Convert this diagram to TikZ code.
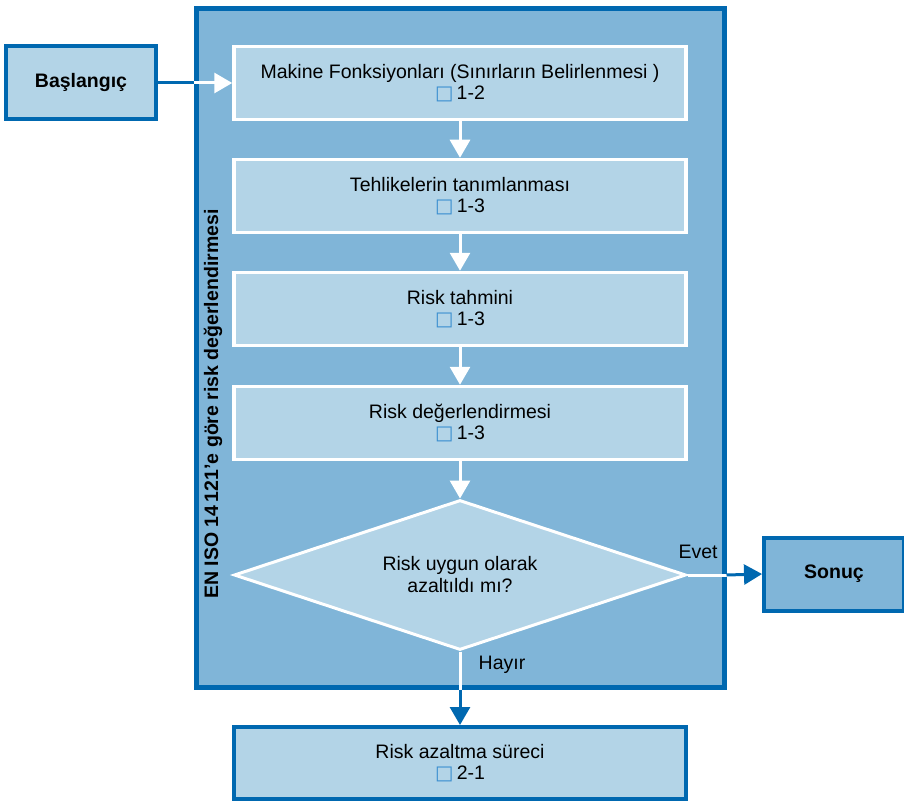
\documentclass[tikz,border=0pt]{standalone}
\usepackage{fontspec}
\setmainfont{Liberation Sans}
\newfontfamily\symfont{DejaVu Sans}
\usetikzlibrary{arrows.meta}
\usetikzlibrary{shapes.geometric}
\usetikzlibrary{positioning}
\definecolor{darkblue}{HTML}{0068B0}
\definecolor{midblue}{HTML}{80B5D8}
\definecolor{lightblue}{HTML}{B3D4E7}
\definecolor{sqblue}{HTML}{3B8FD0}
\newcommand{\refbox}[1]{{\symfont\textcolor{sqblue}{\char"25A1}}\,#1}
\tikzset{stepbox/.style = {draw=white, line width=3.5pt, fill=lightblue,
                           minimum width=452pt, minimum height=73pt,
                           align=center, font=\fontsize{19.5}{21}\selectfont}}
\tikzset{outbox/.style = {draw=darkblue, line width=4pt, fill=lightblue,
                          align=center}}
\tikzset{whiteflow/.style = {draw=white, line width=3pt,
                             -{Triangle[length=18pt, width=20pt]}}}
\tikzset{blueflow/.style = {draw=darkblue, line width=3pt,
                            -{Triangle[length=18pt, width=20pt]}}}

\begin{document}
\begin{tikzpicture}[x=1pt, y=-1pt]
      \useasboundingbox (0, 0) rectangle (904, 802);

      % outer frame
      \node [draw=darkblue, line width=5pt, fill=midblue, minimum width=528pt,
             minimum height=678pt] (frame) at (460, 348) {};
      \node [rotate=90, font=\fontsize{19.5}{22}\bfseries] (title) at (213, 404)
            {EN ISO 14\,121'e göre risk değerlendirmesi};

      % steps
      \node [stepbox] (funcs) at (460, 83)
            {Makine Fonksiyonları (Sınırların Belirlenmesi )\\ \refbox{1-2}};
      \node [stepbox] (hazards) at (460, 196)
            {Tehlikelerin tanımlanması\\ \refbox{1-3}};
      \node [stepbox] (estimate) at (460, 309)
            {Risk tahmini\\ \refbox{1-3}};
      \node [stepbox] (evaluate) at (460, 423)
            {Risk değerlendirmesi\\ \refbox{1-3}};
      \node [diamond, draw=white, line width=3pt, fill=lightblue, aspect=3,
             minimum width=452pt, minimum height=150pt, inner sep=0,
             align=center, font=\fontsize{19.5}{22}\selectfont] (decision) at (460, 575)
            {Risk uygun olarak\\ azaltıldı mı?};

      % outside boxes
      \node [outbox, minimum width=150pt, minimum height=73pt,
             font=\fontsize{19.5}{22}\bfseries] (start) at (81, 83) {Başlangıç};
      \node [outbox, fill=midblue, minimum width=140pt, minimum height=73pt,
             font=\fontsize{19.5}{22}\bfseries] (result) at (834, 574) {Sonuç};
      \node [outbox, minimum width=452pt, minimum height=72pt,
             font=\fontsize{19.5}{21}\selectfont] (reduce) at (460, 763)
            {Risk azaltma süreci\\ \refbox{2-1}};

      \coordinate (startin) at (frame.west |- start.east);
      \coordinate (yesout) at (frame.east |- decision.east);
      \coordinate (noout) at (frame.south -| decision.south);

      % connectors
      \draw [darkblue, line width=3pt] (start.east) -- (startin);
      \draw [whiteflow] (startin) -- (funcs.west);
      \draw [whiteflow] (funcs.south) -- (hazards.north);
      \draw [whiteflow] (hazards.south) -- (estimate.north);
      \draw [whiteflow] (estimate.south) -- (evaluate.north);
      \draw [whiteflow] (evaluate.south) -- (decision.north);
      \draw [white, line width=3pt] (decision.east) -- (yesout);
      \draw [blueflow] (yesout) -- (result.west);
      \draw [white, line width=3pt] (decision.south) -- (noout);
      \draw [blueflow] (noout) -- (reduce.north);

      \node [font=\fontsize{19.5}{22}\selectfont] (yes) at (698, 552) {Evet};
      \node [font=\fontsize{19.5}{22}\selectfont] (no) at (502, 665) {Hayır};
    \end{tikzpicture}
\end{document}
